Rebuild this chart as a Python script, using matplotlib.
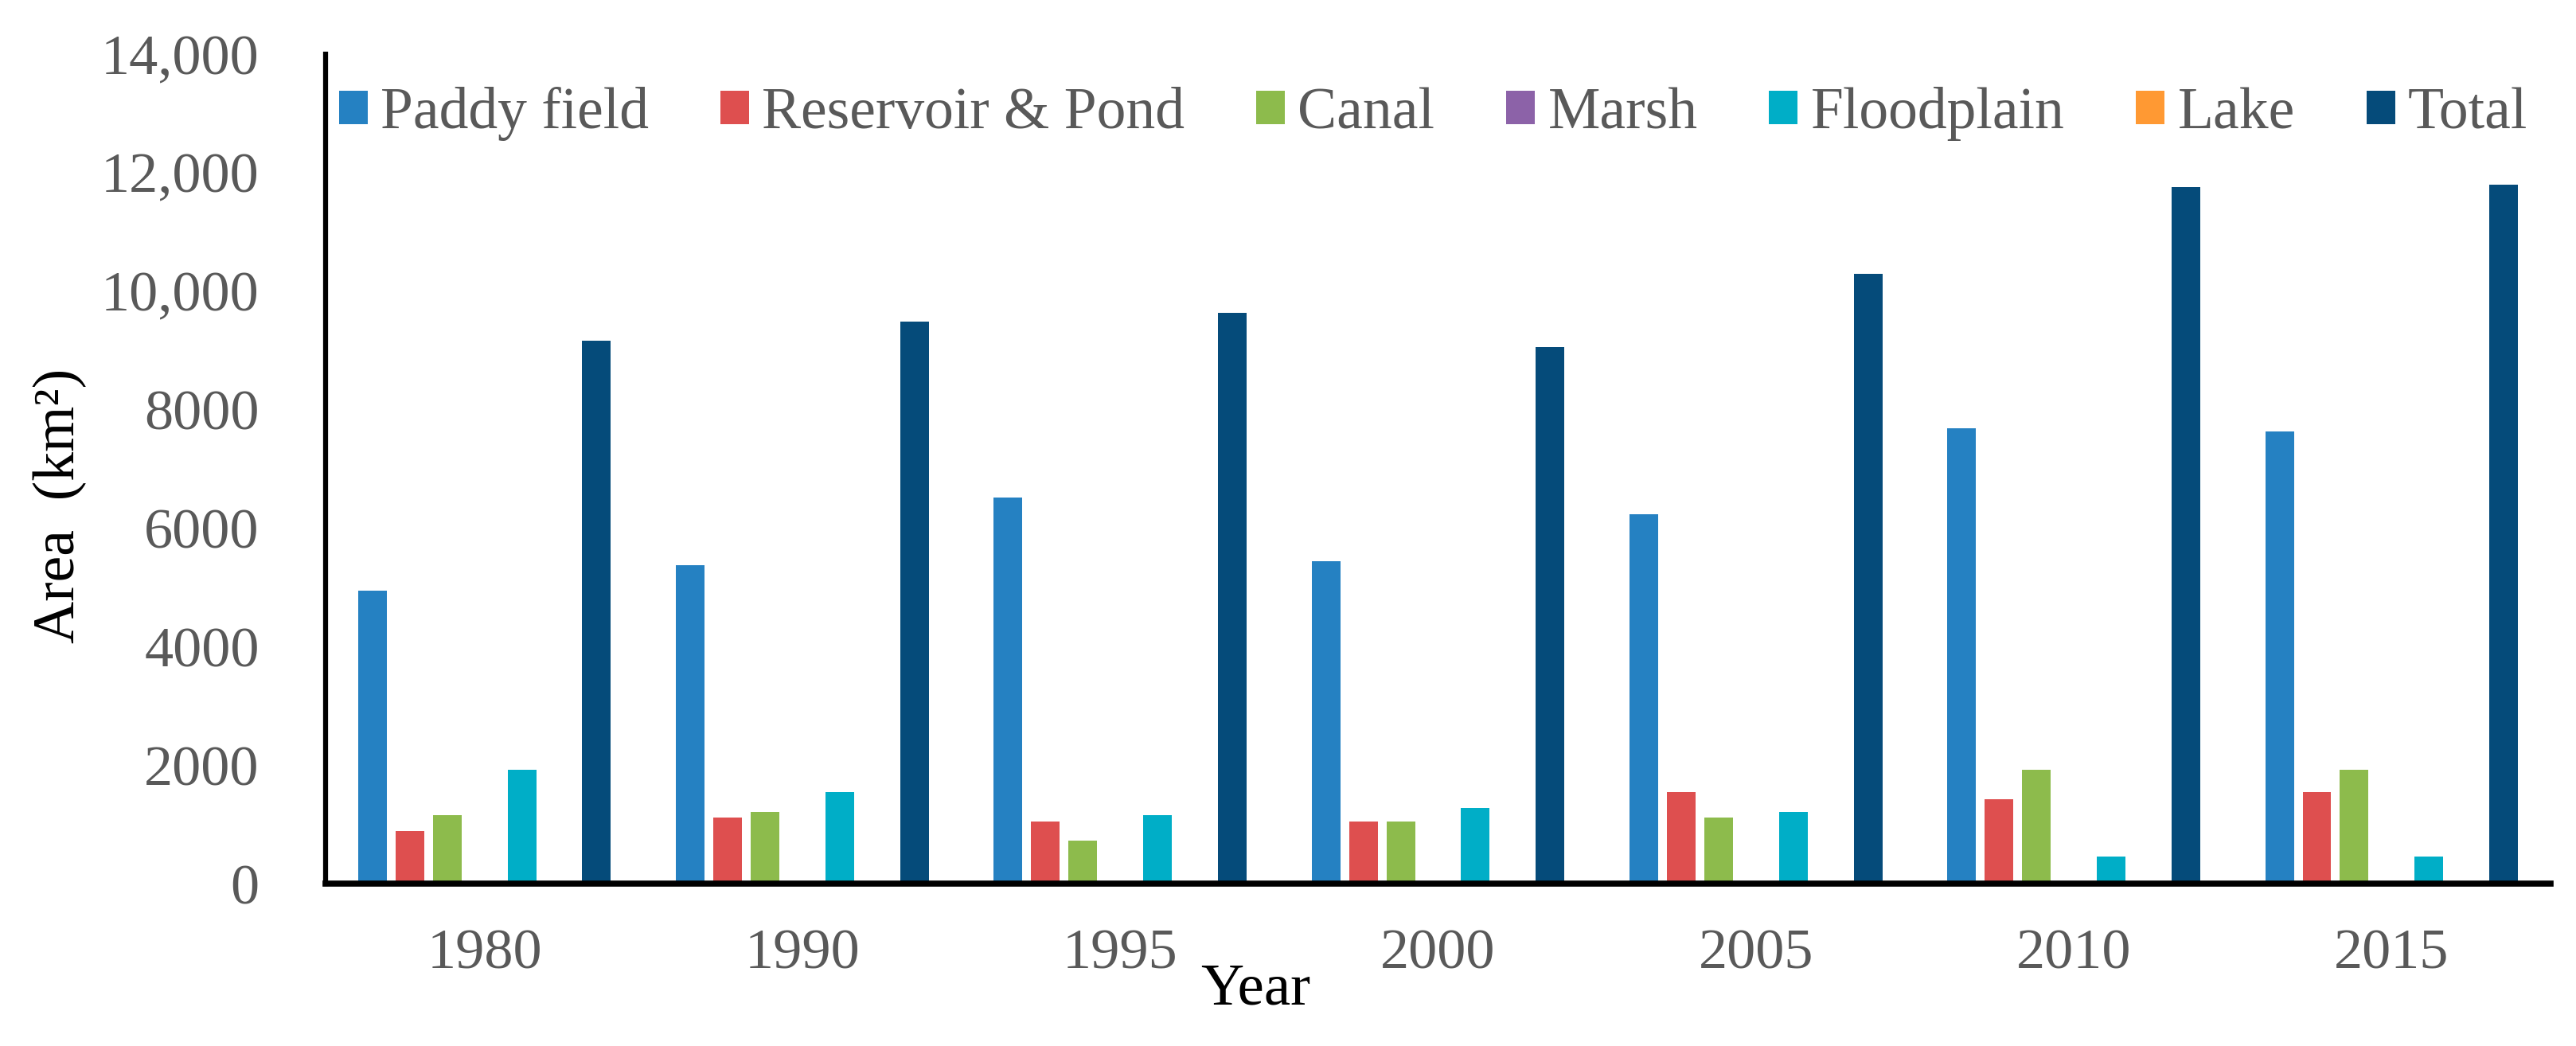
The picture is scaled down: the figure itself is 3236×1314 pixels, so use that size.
import matplotlib
matplotlib.use("Agg")
import matplotlib.pyplot as plt
import numpy as np

# ---- data ----
years = ['1980', '1990', '1995', '2000', '2005', '2010', '2015']
series_names = ['Paddy field', 'Reservoir & Pond', 'Canal', 'Marsh', 'Floodplain', 'Lake', 'Total']
paddy = [4940, 5380, 6510, 5440, 6240, 7690, 7630]
reservoir = [890, 1120, 1050, 1050, 1550, 1430, 1550]
canal = [1160, 1210, 730, 1050, 1110, 1920, 1920]
marsh = [5, 5, 5, 5, 5, 5, 5]
floodplain = [1920, 1540, 1160, 1280, 1210, 460, 460]
lake = [8, 8, 8, 8, 8, 8, 8]
total = [9160, 9480, 9640, 9050, 10290, 11750, 11800]
yticks = [0, 2000, 4000, 6000, 8000, 10000, 12000, 14000]
ytick_labels = ['0', '2000', '4000', '6000', '8000', '10,000', '12,000', '14,000']

colors = ['#2581C2', '#DE4F4F', '#8DBB4C', '#8C62A8', '#00AEC7', '#FF9933', '#054B7A']
values = [paddy, reservoir, canal, marsh, floodplain, lake, total]

W, H = 3236, 1314
fig = plt.figure(figsize=(W / 100, H / 100), dpi=100)
serif = ['Liberation Serif', 'DejaVu Serif']

ax = fig.add_axes([409 / W, 1 - 1110 / H, (3204 - 409) / W, (1110 - 68) / H])

x = np.arange(len(years))
step = 0.1175
bw = 0.09
for k, (name, vals, c) in enumerate(zip(series_names, values, colors)):
    ax.bar(x + (k - 3) * step, vals, width=bw, color=c, label=name, zorder=2)

ax.set_xlim(-0.5, 6.5)
ax.set_ylim(0, 14000)
ax.set_yticks(yticks)
ax.set_yticklabels(ytick_labels)
ax.set_xticks(x)
ax.set_xticklabels(years)

for lab in ax.get_yticklabels() + ax.get_xticklabels():
    lab.set_fontfamily(serif)
    lab.set_fontsize(52)
    lab.set_color('#595959')

ax.tick_params(axis='y', length=0, pad=60)
ax.tick_params(axis='x', length=0, pad=41)

for s in ['top', 'right']:
    ax.spines[s].set_visible(False)
ax.spines['left'].set_linewidth(4.5)
ax.spines['bottom'].set_linewidth(5.5)
for s in ['left', 'bottom']:
    ax.spines[s].set_color('black')
    ax.spines[s].set_zorder(3)

leg = fig.legend(loc='center left', bbox_to_anchor=(426 / W, 1 - 143 / H),
                 bbox_transform=fig.transFigure, ncol=7, frameon=False,
                 borderpad=0, borderaxespad=0,
                 handlelength=0.49, handleheight=0.49, handletextpad=0.22,
                 columnspacing=1.22,
                 prop={'family': serif, 'size': 53})
for t in leg.get_texts():
    t.set_color('#595959')

fig.text(75 / W, 1 - 635 / H, 'Area  (km²)', rotation=90, ha='center', va='center',
         fontsize=53, family=serif, color='black')
fig.text(1577 / W, 1 - 1262 / H, 'Year', ha='center', va='baseline',
         fontsize=54, family=serif, color='black')

fig.savefig('out.png', dpi=100, facecolor='white')
